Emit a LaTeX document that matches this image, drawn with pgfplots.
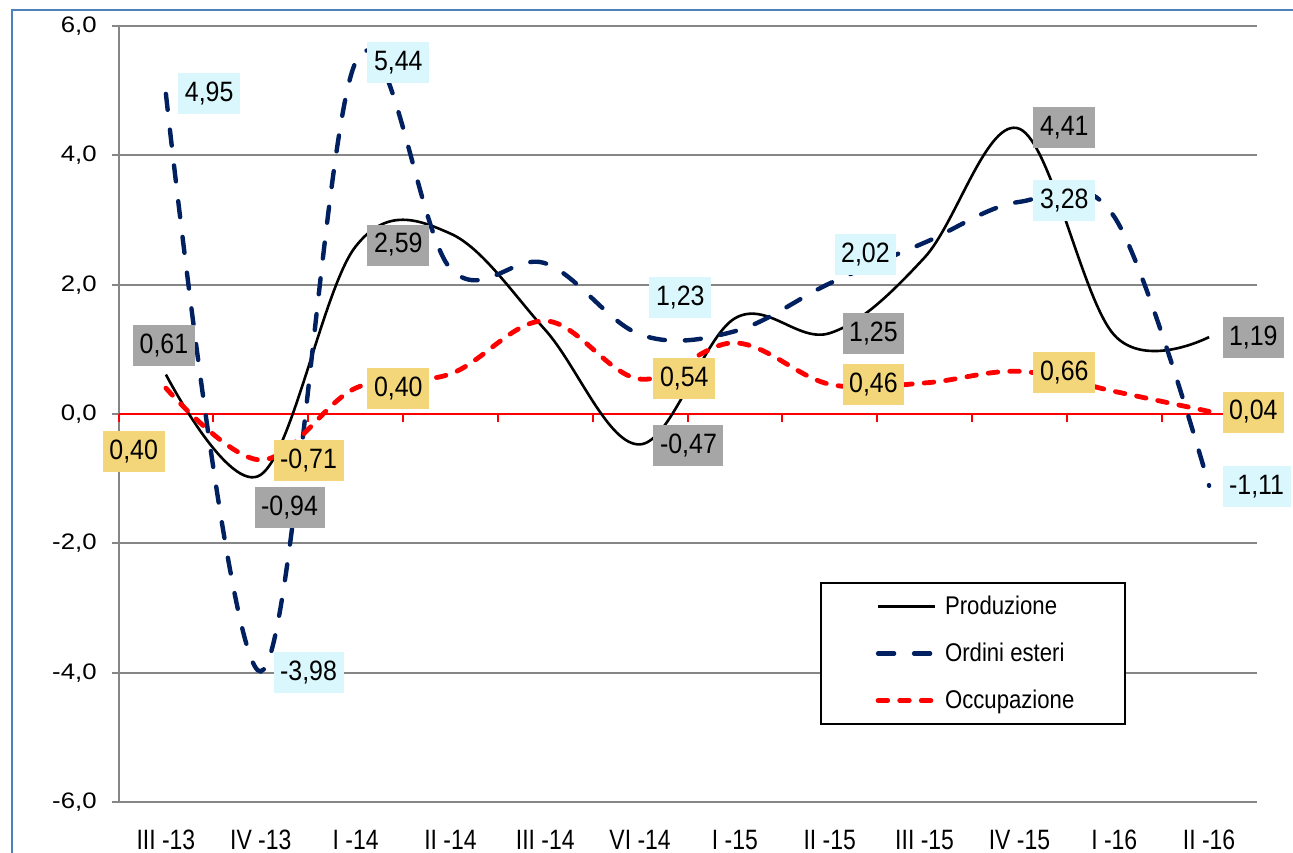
\documentclass[border=0pt]{standalone}
\usepackage{fontspec}
\setmainfont{Liberation Sans}
\newfontfamily\fData{Liberation Sans}[FakeStretch=0.89]
\newfontfamily\fX{Liberation Sans}[FakeStretch=0.82]
\newfontfamily\fY{Liberation Sans}[FakeStretch=1.15]
\newfontfamily\fLeg{Liberation Sans}[FakeStretch=0.865]
\usepackage{pgfplots}
\pgfplotsset{compat=1.18}
\definecolor{navy}{RGB}{0,32,96}
\definecolor{gridgray}{RGB}{134,134,134}
\definecolor{labgray}{RGB}{166,166,166}
\definecolor{labcyan}{RGB}{217,247,252}
\definecolor{labyellow}{RGB}{244,214,122}
\definecolor{bordblue}{RGB}{79,129,189}
\tikzset{lab/.style={inner xsep=3.3pt, inner ysep=0pt, minimum height=20.5pt, font=\fData\fontsize{14}{15}\selectfont, text=black}}
\begin{document}
\begin{tikzpicture}
\useasboundingbox (0,0) rectangle (646.5pt,426pt);
\draw[bordblue, line width=1pt] (6pt,-5pt) -- (6pt,421pt) -- (652pt,421pt);
\begin{axis}[
  at={(59.25pt,25pt)}, anchor=south west,
  scale only axis, width=569pt, height=388pt,
  xmin=-0.5, xmax=11.5, ymin=-6, ymax=6,
  axis x line*=bottom, axis y line*=left,
  axis line style={gridgray, line width=1pt, -},
  xtick={0,...,11},
  xticklabels={III -13, IV -13, I -14, II -14, III -14, VI -14, I -15, II -15, III -15, IV -15, I -16, II -16},
  x tick style={draw=none},
  xticklabel style={font=\fX\fontsize{14}{16}\selectfont, inner sep=0pt, anchor=north, yshift=-10.5pt},
  ytick={-6,-4,...,6},
  yticklabels={{-6,0},{-4,0},{-2,0},{0,0},{2,0},{4,0},{6,0}},
  y tick style={gridgray, line width=1pt},
  tick align=outside, major tick length=3.5pt,
  yticklabel style={font=\fY\fontsize{11.2}{13}\selectfont, inner sep=0pt, anchor=east, xshift=-7.25pt},
  ymajorgrids, grid style={gridgray, line width=1pt},
  clip=false,
  legend style={at={(0.6165,0.2835)}, anchor=north west, draw=black, line width=1pt, fill=white,
    inner sep=0pt, row sep=0pt, column sep=0pt,
    font=\fLeg\fontsize{12.8}{14}\selectfont,
    nodes={inner sep=0pt, minimum height=23.5pt}},
  legend cell align=left,
  legend image code/.code={\path[draw=none] (-28.5pt,0pt) -- (33.5pt,0pt); \draw[#1] (0pt,0pt) -- (28.5pt,0pt);},
]
\draw[red, line width=1.3pt] (axis cs:-0.5,0) -- (axis cs:11.5,0);
\pgfplotsinvokeforeach{-0.5,0.5,...,11.5}{\draw[red, line width=1pt] (axis cs:#1,0) -- ++(0pt,-4pt);}

\addplot[black, line width=1.3pt, smooth, tension=0.6] coordinates {
(0,0.61) (1,-0.94) (2,2.59) (3,2.79) (4,1.30) (5,-0.47) (6,1.48) (7,1.25) (8,2.42) (9,4.41) (10,1.22) (11,1.19)};
\addlegendentry{\makebox[90pt][l]{Produzione}}
\addplot[navy, line width=2.2pt, smooth, tension=0.6, dash pattern=on 8pt off 10pt, line cap=round] coordinates {
(0,4.95) (1,-3.98) (2,5.44) (3,2.25) (4,2.33) (5,1.23) (6,1.28) (7,2.02) (8,2.65) (9,3.28) (10,3.05) (11,-1.11)};
\addlegendentry{\makebox[90pt][l]{Ordini esteri}}
\addplot[red, line width=2.4pt, smooth, tension=0.6, dash pattern=on 4.8pt off 6pt, line cap=round] coordinates {
(0,0.40) (1,-0.71) (2,0.40) (3,0.62) (4,1.44) (5,0.54) (6,1.10) (7,0.46) (8,0.48) (9,0.66) (10,0.35) (11,0.04)};
\addlegendentry{\makebox[90pt][l]{Occupazione}}

% Produzione labels
\node[lab, fill=labgray, anchor=center, xshift=-1pt, yshift=14.3pt] at (axis cs:0,0.61) {0,61};
\node[lab, fill=labgray, anchor=west, xshift=-3.3pt, yshift=-16.6pt] at (axis cs:1,-0.94) {-0,94};
\node[lab, fill=labgray, anchor=west, xshift=5.75pt, yshift=0.75pt] at (axis cs:2,2.59) {2,59};
\node[lab, fill=labgray, anchor=west, xshift=6.5pt, yshift=-0.5pt] at (axis cs:5,-0.47) {-0,47};
\node[lab, fill=labgray, anchor=west, xshift=6.2pt] at (axis cs:7,1.25) {1,25};
\node[lab, fill=labgray, anchor=west, xshift=6.8pt, yshift=0.6pt] at (axis cs:9,4.41) {4,41};
\node[lab, fill=labgray, anchor=west, xshift=6.5pt] at (axis cs:11,1.19) {1,19};
% Ordini esteri labels
\node[lab, fill=labcyan, anchor=west, xshift=6pt] at (axis cs:0,4.95) {4,95};
\node[lab, fill=labcyan, anchor=west, xshift=6.2pt, yshift=-0.5pt] at (axis cs:1,-3.98) {-3,98};
\node[lab, fill=labcyan, anchor=west, xshift=5.75pt] at (axis cs:2,5.44) {5,44};
\node[lab, fill=labcyan, anchor=west, xshift=4.5pt, yshift=18.25pt] at (axis cs:5,1.23) {1,23};
\node[lab, fill=labcyan, anchor=west, xshift=2.2pt, yshift=14.5pt] at (axis cs:7,2.02) {2,02};
\node[lab, fill=labcyan, anchor=west, xshift=6.8pt, yshift=0.7pt] at (axis cs:9,3.28) {3,28};
\node[lab, fill=labcyan, anchor=west, xshift=6.5pt, yshift=-0.35pt] at (axis cs:11,-1.11) {-1,11};
% Occupazione labels
\node[lab, fill=labyellow, anchor=east, xshift=-0.5pt, yshift=-31.5pt] at (axis cs:0,0.40) {0,40};
\node[lab, fill=labyellow, anchor=west, xshift=6.2pt, yshift=-0.5pt] at (axis cs:1,-0.71) {-0,71};
\node[lab, fill=labyellow, anchor=west, xshift=5.75pt] at (axis cs:2,0.40) {0,40};
\node[lab, fill=labyellow, anchor=west, xshift=6.5pt, yshift=0.3pt] at (axis cs:5,0.54) {0,54};
\node[lab, fill=labyellow, anchor=west, xshift=6.2pt] at (axis cs:7,0.46) {0,46};
\node[lab, fill=labyellow, anchor=west, xshift=6.8pt, yshift=-0.6pt] at (axis cs:9,0.66) {0,66};
\node[lab, fill=labyellow, anchor=west, xshift=6.5pt, yshift=-0.3pt] at (axis cs:11,0.04) {0,04};
\end{axis}
\end{tikzpicture}
\end{document}
